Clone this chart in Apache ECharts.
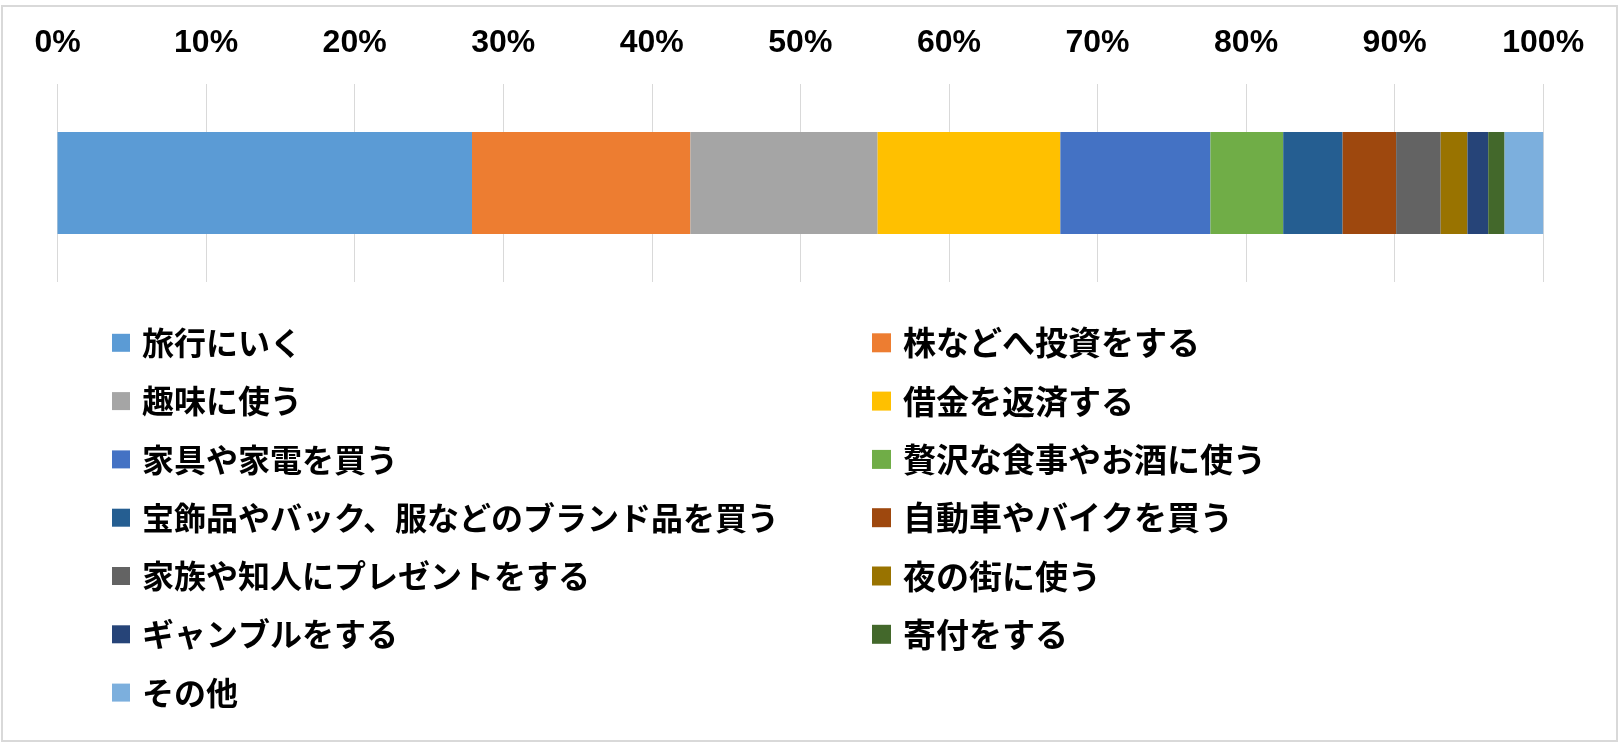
<!DOCTYPE html>
<html>
<head>
<meta charset="utf-8">
<script src="https://cdn.jsdelivr.net/npm/echarts@6/dist/echarts.min.js"></script>
<style>
html,body{margin:0;padding:0;background:#fff;}
#c{width:1620px;height:746px;}
</style>
</head>
<body>
<div id="c"></div>
<script>
const categories = ['旅行にいく','株などへ投資をする','趣味に使う','借金を返済する','家具や家電を買う','贅沢な食事やお酒に使う','宝飾品やバック、服などのブランド品を買う','自動車やバイクを買う','家族や知人にプレゼントをする','夜の街に使う','ギャンブルをする','寄付をする','その他'];
const values = [27.9, 14.7, 12.6, 12.3, 10.1, 4.9, 4.0, 3.6, 3.0, 1.8, 1.4, 1.1, 2.6];
const colors = ['#5B9BD5','#ED7D31','#A5A5A5','#FFC000','#4472C4','#70AD47','#255E91','#9E480E','#636363','#997300','#264478','#43682B','#7CAFDD'];
const tickValues = [0,10,20,30,40,50,60,70,80,90,100];

const chart = echarts.init(document.getElementById('c'));
const series = categories.map((name, i) => ({
  name: name,
  type: 'bar',
  stack: 'total',
  barWidth: 102,
  data: [values[i]],
  itemStyle: { color: colors[i] },
  emphasis: { disabled: true }
}));
const leftNames = categories.filter((_, i) => i % 2 === 0);
const rightNames = categories.filter((_, i) => i % 2 === 1);
const legendText = (size) => ({
  fontFamily: '"Noto Sans CJK JP", sans-serif',
  fontSize: size,
  fontWeight: 'bold',
  color: '#000',
  lineHeight: 40,
  padding: [0, 0, 0, 7]
});
chart.setOption({
  animation: false,
  color: colors,
  graphic: [{
    type: 'rect',
    shape: { x: 2, y: 6, width: 1615, height: 735 },
    style: { fill: 'none', stroke: '#d9d9d9', lineWidth: 2 },
    silent: true
  }],
  grid: { left: 57.5, right: 76.8, top: 84, bottom: 464 },
  xAxis: {
    type: 'value',
    position: 'top',
    min: 0, max: 100, interval: 10,
    axisLine: { show: false },
    axisTick: { show: false },
    splitLine: { show: true, lineStyle: { color: '#d9d9d9', width: 1 } },
    axisLabel: {
      margin: 25,
      fontFamily: '"Liberation Sans", Arial, sans-serif',
      fontWeight: 'bold',
      fontSize: 32,
      color: '#000',
      formatter: (v) => tickValues.includes(v) ? v + '%' : ''
    }
  },
  yAxis: {
    type: 'category',
    data: [''],
    axisLine: { show: false },
    axisTick: { show: false },
    axisLabel: { show: false }
  },
  legend: [{
    data: leftNames,
    orient: 'vertical',
    left: 107,
    top: 317.8,
    itemWidth: 18,
    itemHeight: 18,
    itemGap: 18.3,
    icon: 'rect',
    textStyle: legendText(32),
    selectedMode: false
  }, {
    data: rightNames,
    orient: 'vertical',
    left: 867,
    top: 317.8,
    itemWidth: 19,
    itemHeight: 19,
    itemGap: 18.3,
    icon: 'rect',
    textStyle: legendText(33),
    selectedMode: false
  }],
  series: series
});
</script>
</body>
</html>
